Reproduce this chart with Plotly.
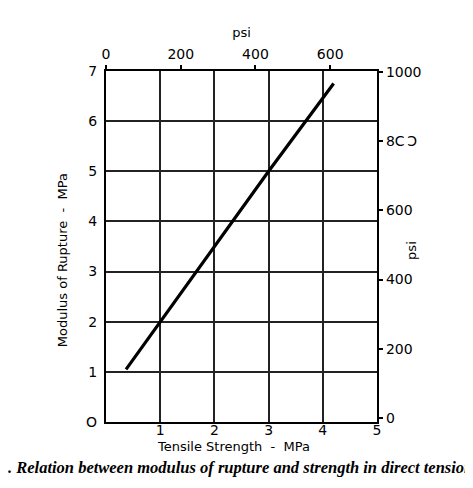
import plotly.graph_objects as go

# Data
tensile_mpa = [0.37, 1.0, 2.0, 3.0, 4.2]
rupture_mpa = [1.05, 2.0, 3.5, 5.0, 6.75]

x_ticks = [0, 1, 2, 3, 4, 5]
x_labels = ["", "1", "2", "3", "4", "5"]
y_ticks = [0, 1, 2, 3, 4, 5, 6, 7]
y_labels = ["O", "1", "2", "3", "4", "5", "6", "7"]
psi_top_ticks = [0, 200, 400, 600]
psi_right_ticks = [0, 200, 400, 600, 800, 1000]
psi_right_labels = ["0", "200", "400", "600", "8C\u2009\u0186", "1000"]

PSI_PER_MPA = 145.04

font_fam = "DejaVu Sans"

fig = go.Figure()
fig.add_trace(go.Scatter(x=tensile_mpa, y=rupture_mpa, mode="lines",
                         line=dict(color="black", width=3.2), showlegend=False,
                         hoverinfo="skip"))
# invisible traces to activate secondary axes
fig.add_trace(go.Scatter(x=[0], y=[0], xaxis="x2", yaxis="y", mode="markers",
                         marker=dict(opacity=0), showlegend=False, hoverinfo="skip"))
fig.add_trace(go.Scatter(x=[0], y=[0], xaxis="x", yaxis="y2", mode="markers",
                         marker=dict(opacity=0), showlegend=False, hoverinfo="skip"))

fig.update_layout(
    width=473, height=488,
    margin=dict(l=98, r=104, t=63, b=74),
    paper_bgcolor="white", plot_bgcolor="white",
    font=dict(family=font_fam, color="black", size=14),
    xaxis=dict(range=[0, 5], tickvals=x_ticks, ticktext=x_labels,
               showgrid=True, gridcolor="#222", gridwidth=1.6,
               showline=True, linecolor="black", linewidth=2.2, mirror=False,
               zeroline=False, ticks="", tickfont=dict(size=14),
               ticklabelstandoff=-6),
    yaxis=dict(range=[0, 7], tickvals=y_ticks, ticktext=y_labels,
               showgrid=True, gridcolor="#222", gridwidth=1.6,
               showline=True, linecolor="black", linewidth=2.2,
               zeroline=False, ticks="", tickfont=dict(size=14),
               ticklabelstandoff=4),
    xaxis2=dict(overlaying="x", side="top", range=[0, 5 * PSI_PER_MPA],
                tickvals=psi_top_ticks, ticks="outside", ticklen=4, tickwidth=1.5,
                tickcolor="black", showgrid=False, zeroline=False,
                showline=True, linecolor="black", linewidth=2.2,
                tickfont=dict(size=14),
                title=dict(text="psi", font=dict(size=13), standoff=6)),
    yaxis2=dict(overlaying="y", side="right", range=[-12, 7 * PSI_PER_MPA - 12],
                tickvals=psi_right_ticks, ticktext=psi_right_labels,
                ticks="outside", ticklen=4, tickwidth=1.5, tickcolor="black",
                showgrid=False, zeroline=False,
                showline=True, linecolor="black", linewidth=2.2,
                tickfont=dict(size=14)),
)

# axis titles as annotations for precise placement
fig.add_annotation(text="Tensile Strength  -  MPa", xref="paper", yref="paper",
                   x=0.47, y=-0.095 + 0.025, xanchor="center", yanchor="middle", showarrow=False,
                   font=dict(size=13))
fig.add_annotation(text="Modulus of Rupture  -  MPa", xref="paper", yref="paper",
                   x=-0.16, y=0.46, xanchor="center", yanchor="middle", showarrow=False,
                   textangle=-90, font=dict(size=13))
fig.add_annotation(text="psi", xref="paper", yref="paper",
                   x=1.125, y=0.49, xanchor="center", yanchor="middle", showarrow=False,
                   textangle=-90, font=dict(size=13))

fig.add_annotation(text="<b><i>. Relation between modulus of rupture and strength in direct tension</i></b>",
                   xref="paper", yref="paper", x=-0.37, y=-0.158 + 0.028, xanchor="left", yanchor="middle",
                   showarrow=False, font=dict(family="Liberation Serif", size=16.5, color="black"))

fig.write_html("out.html")
